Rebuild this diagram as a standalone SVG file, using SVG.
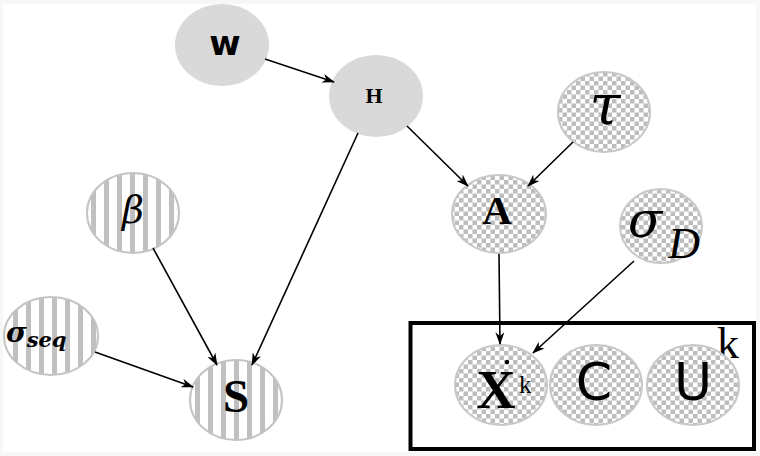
<svg xmlns="http://www.w3.org/2000/svg" width="760" height="456" viewBox="0 0 760 456">
<defs>
  <pattern id="stripes" patternUnits="userSpaceOnUse" width="13" height="10" x="0" y="0">
    <rect x="0" y="0" width="13" height="10" fill="#ffffff"/>
    <rect x="0" y="0" width="5" height="10" fill="#c0c0c0"/>
  </pattern>
  <pattern id="checker" patternUnits="userSpaceOnUse" width="9" height="9">
    <rect x="0" y="0" width="9" height="9" fill="#ffffff"/>
    <rect x="0" y="0" width="4.5" height="4.5" fill="#bdbdbd"/>
    <rect x="4.5" y="4.5" width="4.5" height="4.5" fill="#bdbdbd"/>
  </pattern>
  <marker id="arr" viewBox="0 0 14 10" refX="13" refY="5" markerWidth="13" markerHeight="9" markerUnits="userSpaceOnUse" orient="auto">
    <path d="M0,0 L14,5 L0,10 L4,5 Z" fill="#000"/>
  </marker>
  <style>
    .plain { fill: #d9d9d9; stroke: none; }
    .str { fill: url(#stripes); stroke: #c4c4c4; stroke-width: 2; }
    .chk { fill: url(#checker); stroke: #c8c8c8; stroke-width: 2; }
    .edge { stroke: #000; stroke-width: 1.6; fill: none; marker-end: url(#arr); }
    .serif { font-family: 'Liberation Serif', 'DejaVu Serif', serif; fill: #000; }
    .greek { font-family: 'DejaVu Serif', 'Liberation Serif', serif; font-style: italic; fill: #000; }
    .sans { font-family: 'DejaVu Sans', 'Liberation Sans', sans-serif; fill: #000; }
  </style>
</defs>
<rect x="0" y="0" width="760" height="456" fill="#f7f7f7"/>
<rect x="3" y="4" width="753" height="448" fill="#ffffff"/>

<g id="plate">
  <rect x="410.5" y="323" width="343.5" height="126" fill="none" stroke="#000" stroke-width="4"/>
  <text class="serif" x="717" y="358" font-size="44">k</text>
</g>

<g id="node-W">
  <ellipse class="plain" cx="222" cy="45" rx="47" ry="41"/>
  <text class="sans" x="225" y="55" font-size="34" font-weight="bold" text-anchor="middle">w</text>
</g>
<g id="node-H">
  <ellipse class="plain" cx="376" cy="96" rx="47" ry="41"/>
  <text class="serif" x="374" y="103" font-size="22" font-weight="bold" text-anchor="middle">H</text>
</g>
<g id="node-tau">
  <ellipse class="chk" cx="604" cy="112" rx="46" ry="40"/>
  <text class="greek" x="605" y="124" font-size="56" text-anchor="middle">τ</text>
</g>
<g id="node-A">
  <ellipse class="chk" cx="499" cy="214" rx="47" ry="39"/>
  <text class="serif" x="497" y="224" font-size="41" font-weight="bold" text-anchor="middle">A</text>
</g>
<g id="node-sigmaD">
  <ellipse class="chk" cx="661" cy="226" rx="41" ry="37"/>
  <text class="greek" x="628" y="237" font-size="50">σ<tspan class="serif" font-style="italic" font-size="44" dx="6" dy="21">D</tspan></text>
</g>
<g id="node-beta">
  <ellipse class="str" cx="133" cy="213" rx="46" ry="40"/>
  <text class="greek" x="133" y="223" font-size="38" text-anchor="middle">β</text>
</g>
<g id="node-sigmaseq">
  <ellipse class="str" cx="51" cy="336" rx="47" ry="39"/>
  <text class="greek" x="6" y="342" font-size="28" font-weight="bold">σ<tspan font-size="21" dy="5">seq</tspan></text>
</g>
<g id="node-S">
  <ellipse class="str" cx="236" cy="400" rx="46" ry="40"/>
  <text class="serif" x="236" y="412" font-size="47" font-weight="bold" text-anchor="middle">S</text>
</g>
<g id="node-X">
  <ellipse class="chk" cx="501" cy="385" rx="46" ry="40"/>
  <text class="serif" x="496" y="408" font-size="54" font-weight="bold" text-anchor="middle">X</text>
  <circle cx="507" cy="362" r="2.2" fill="#000"/>
  <text class="serif" x="519" y="393" font-size="25">k</text>
</g>
<g id="node-C">
  <ellipse class="chk" cx="596" cy="385" rx="46" ry="40"/>
  <text class="sans" x="594" y="400" font-size="52" text-anchor="middle">C</text>
</g>
<g id="node-U">
  <ellipse class="chk" cx="693" cy="385" rx="46" ry="40"/>
  <text class="sans" x="693" y="400" font-size="52" text-anchor="middle">U</text>
</g>

<g id="connectors">
  <line class="edge" x1="265" y1="59" x2="334" y2="82"/>
  <line class="edge" x1="358" y1="133" x2="252" y2="365"/>
  <line class="edge" x1="407" y1="126" x2="468" y2="186"/>
  <line class="edge" x1="573" y1="142" x2="528" y2="186"/>
  <line class="edge" x1="153" y1="248" x2="217" y2="365"/>
  <line class="edge" x1="95" y1="352" x2="193" y2="387"/>
  <line class="edge" x1="499" y1="254" x2="500" y2="344"/>
  <line class="edge" x1="634" y1="261" x2="533" y2="353"/>
</g>
</svg>
